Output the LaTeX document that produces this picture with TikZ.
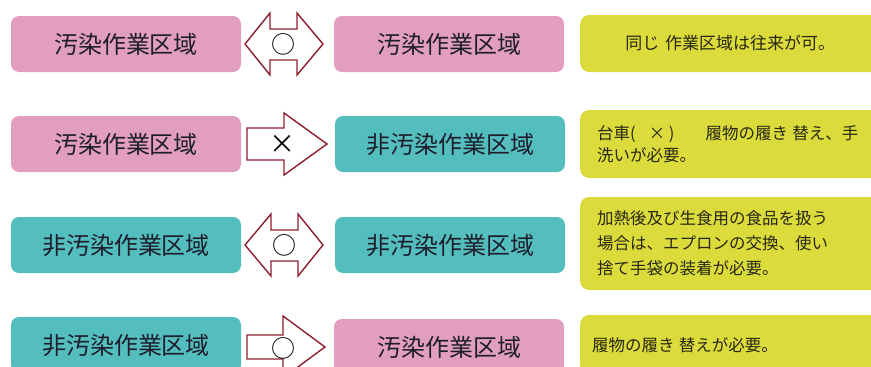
\documentclass[tikz,border=0pt]{standalone}
\usepackage{fontspec}
\newfontfamily\jp{Noto Sans CJK JP}
\definecolor{pinkz}{RGB}{226,158,191}
\definecolor{tealz}{RGB}{84,190,190}
\definecolor{yellz}{RGB}{219,219,60}
\definecolor{arrred}{RGB}{140,30,45}
\definecolor{txtz}{RGB}{30,30,45}
\definecolor{ytxt}{RGB}{40,40,20}
\tikzset{
  zone/.style={rounded corners=8pt, minimum width=230pt, minimum height=56pt,
    inner sep=0pt, text=txtz, font=\jp\fontsize{24}{24}\selectfont},
  note/.style={rounded corners=9pt, fill=yellz, anchor=west, text width=300pt,
    inner xsep=17pt, inner ysep=0pt, align=left, text=ytxt},
  arrshape/.style={draw=arrred, fill=white, line width=1.4pt, line join=miter},
  sym/.style={inner sep=0pt, text=black, font=\jp\fontsize{24}{24}\selectfont}
}
\begin{document}
\begin{tikzpicture}[x=1pt,y=-1pt]
\useasboundingbox (0,0) rectangle (871,367);
\clip (0,0) rectangle (871,367);

% row 1
\node[zone, fill=pinkz] (l1) at (126,44) {汚染作業区域};
\node[zone, fill=pinkz] (m1) at (449,44) {汚染作業区域};
\node[note, minimum height=57pt, align=center, inner xsep=0pt,
  font=\jp\fontsize{17}{20}\selectfont] (n1) at (580,43.5) {同じ 作業区域は往来が可。};
\begin{scope}[shift={(0,44)}]
\draw[arrshape] (245,0) -- (270,-31) -- (270,-15) -- (297,-15) -- (297,-31) -- (323,0)
  -- (297,31) -- (297,16) -- (270,16) -- (270,31) -- cycle;
\end{scope}
\node[sym] (s1) at (283,44) {○};

% row 2
\node[zone, fill=pinkz] (l2) at (126,144) {汚染作業区域};
\node[zone, fill=tealz] (m2) at (450,144) {非汚染作業区域};
\node[note, minimum height=68pt, font=\jp\fontsize{16.5}{22}\selectfont] (n2) at (580,144)
  {台車(\hspace{0.8em}×\hspace{0.2em})\hspace{1.9em}履物の履き\hspace{0.25em}替え、手\\洗いが必要。};
\begin{scope}[shift={(0,144)}]
\draw[arrshape] (247,-16) -- (284,-16) -- (284,-31) -- (327,0) -- (284,31) -- (284,16)
  -- (247,16) -- cycle;
\end{scope}
\node[sym, font=\jp\fontsize{26}{26}\selectfont] (s2) at (282,144) {×};

% row 3
\node[zone, fill=tealz] (l3) at (126,245) {非汚染作業区域};
\node[zone, fill=tealz] (m3) at (450,245) {非汚染作業区域};
\node[note, minimum height=93pt, font=\jp\fontsize{16.5}{25}\selectfont] (n3) at (580,243.5)
  {加熱後及び生食用の食品を扱う\\場合は、エプロンの交換、使い\\捨て手袋の装着が必要。};
\begin{scope}[shift={(0,245)}]
\draw[arrshape] (245,0) -- (271,-31) -- (271,-15) -- (298,-15) -- (298,-31) -- (323,0)
  -- (298,31) -- (298,16) -- (271,16) -- (271,31) -- cycle;
\end{scope}
\node[sym] (s3) at (284,245) {○};

% row 4
\node[zone, fill=tealz] (l4) at (126,345) {非汚染作業区域};
\node[zone, fill=pinkz] (m4) at (449,347) {汚染作業区域};
\node[note, minimum height=60pt, inner xsep=12pt, font=\jp\fontsize{16.5}{22}\selectfont] (n4) at (580,345)
  {履物の履き\hspace{0.25em}替えが必要。};
\begin{scope}[shift={(0,347)}]
\draw[arrshape] (247,-12) -- (283,-12) -- (283,-31) -- (325,0) -- (283,31) -- (283,12)
  -- (247,12) -- cycle;
\end{scope}
\node[sym] (s4) at (283,348) {○};
\end{tikzpicture}
\end{document}
